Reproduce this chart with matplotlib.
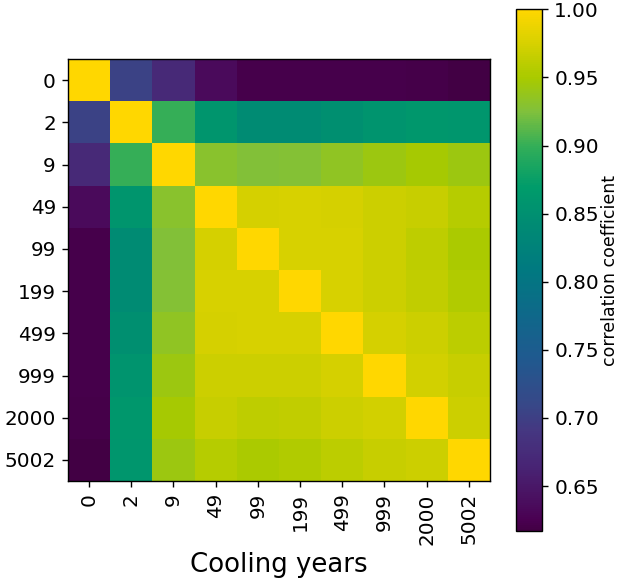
import matplotlib
matplotlib.use("Agg")
import matplotlib.pyplot as plt
import numpy as np
from matplotlib.colors import LinearSegmentedColormap

# Abklingzeiten (Jahre)
cooling_years = ["0", "2", "9", "49", "99", "199", "499", "999", "2000", "5002"]

# obere Dreiecksmatrix der Korrelationskoeffizienten, Zeile fuer Zeile
row_0 = [1.000, 0.705, 0.672, 0.635, 0.622, 0.622, 0.622, 0.622, 0.620, 0.617]
row_2 = [1.000, 0.900, 0.858, 0.842, 0.842, 0.850, 0.857, 0.862, 0.860]
row_9 = [1.000, 0.930, 0.926, 0.928, 0.935, 0.943, 0.948, 0.942]
row_49 = [1.000, 0.974, 0.976, 0.974, 0.969, 0.966, 0.958]
row_99 = [1.000, 0.976, 0.975, 0.969, 0.962, 0.951]
row_199 = [1.000, 0.975, 0.969, 0.964, 0.955]
row_499 = [1.000, 0.974, 0.969, 0.961]
row_999 = [1.000, 0.973, 0.966]
row_2000 = [1.000, 0.969]
row_5002 = [1.000]

# Farbverlauf (Wert, Farbe)
cmap_values = [0.617, 0.625, 0.640, 0.665, 0.690, 0.710, 0.745, 0.775,
               0.810, 0.840, 0.870, 0.900, 0.925, 0.950, 0.975, 1.000]
cmap_colors = ["#420044", "#4a0052", "#4a1060", "#482575", "#453781", "#374888",
               "#1f5a8f", "#0f688a", "#007a80", "#008a74", "#009c6a", "#33ae58",
               "#80c03c", "#a8ca00", "#d6d100", "#ffd700"]

# symmetrische Matrix aufbauen
rows = [row_0, row_2, row_9, row_49, row_99, row_199, row_499, row_999, row_2000, row_5002]
n = len(cooling_years)
corr = np.zeros((n, n))
for i, r in enumerate(rows):
    corr[i, i:] = r
    corr[i:, i] = r

vmin, vmax = cmap_values[0], cmap_values[-1]
pos = [(v - vmin) / (vmax - vmin) for v in cmap_values]
cmap = LinearSegmentedColormap.from_list("corr", list(zip(pos, cmap_colors)))

plt.rcParams["xtick.labelsize"] = 11.5
plt.rcParams["ytick.labelsize"] = 11.5

# Plot erstellen
fig = plt.figure(figsize=(621 / 125, 581 / 125), dpi=125)
ax = fig.add_axes([0.1095, 0.172, 0.6795, 0.7263])
cax = fig.add_axes([0.831, 0.086, 0.042, 0.898])

im = ax.imshow(corr, cmap=cmap, vmin=vmin, vmax=vmax, aspect="auto")
ax.set_xticks(range(n))
ax.set_yticks(range(n))
ax.set_xticklabels(cooling_years, rotation=90)
ax.set_yticklabels(cooling_years)
ax.set_xlabel("Cooling years", fontsize=15)

cb = fig.colorbar(im, cax=cax)
cb.set_ticks([0.65, 0.70, 0.75, 0.80, 0.85, 0.90, 0.95, 1.00])
cb.set_label("correlation coefficient", fontsize=10, labelpad=1)

# Grafik speichern
fig.savefig("out.png", dpi=125)
